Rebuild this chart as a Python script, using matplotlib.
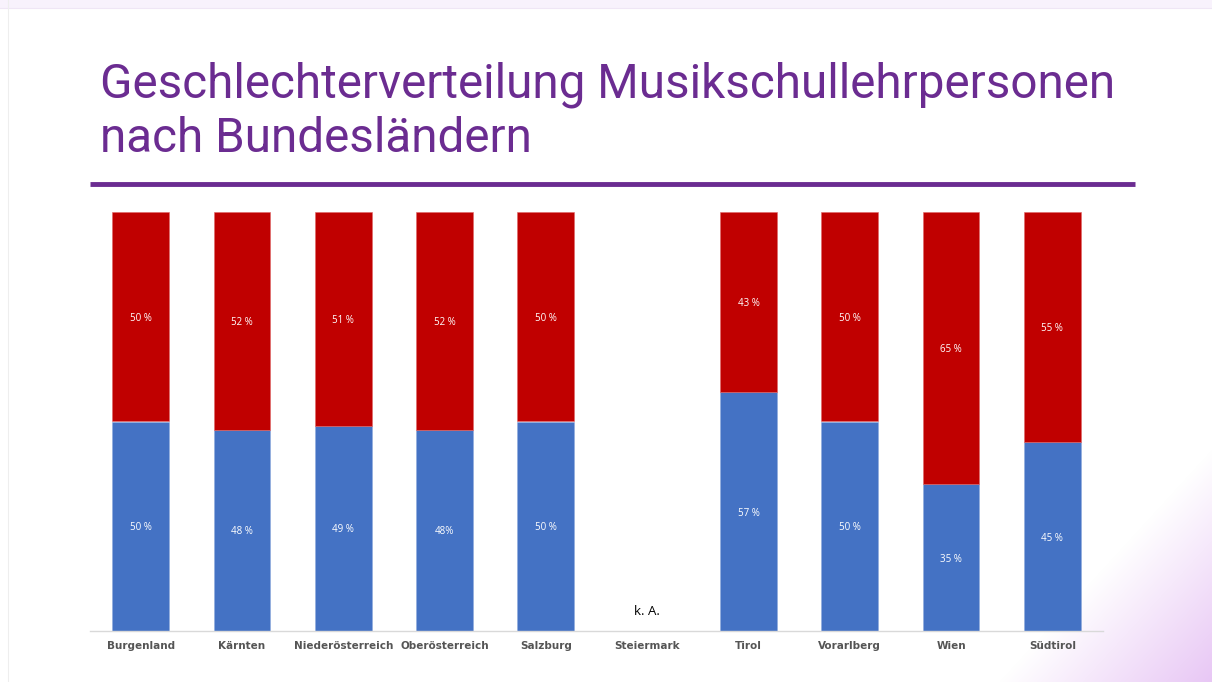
import numpy as np
import matplotlib.pyplot as plt
from matplotlib.patches import Rectangle

# ---------------------------------------------------------------
# DATA
# ---------------------------------------------------------------
states = ['Burgenland', 'Kärnten', 'Niederösterreich', 'Oberösterreich', 'Salzburg',
          'Steiermark', 'Tirol', 'Vorarlberg', 'Wien', 'Südtirol']
share_men = [50, 48, 49, 48, 50, np.nan, 57, 50, 35, 45]
share_women = [50, 52, 51, 52, 50, np.nan, 43, 50, 65, 55]
labels_men = ['50 %', '48 %', '49 %', '48%', '50 %', '', '57 %', '50 %', '35 %', '45 %']
labels_women = ['50 %', '52 %', '51 %', '52 %', '50 %', '', '43 %', '50 %', '65 %', '55 %']
no_data_label = 'k. A.'
title_lines = ['Geschlechterverteilung Musikschullehrpersonen', 'nach Bundesländern']

blue = '#4472C4'
red = '#C00000'
purple = '#6B2C91'

W, H = 1212, 682
fig = plt.figure(figsize=(W / 100, H / 100), dpi=100)

# --- background: white slide with a faint lavender glow bottom right ---
bg = fig.add_axes([0, 0, 1, 1], zorder=-10)
xx, yy = np.meshgrid(np.linspace(0, 1, W), np.linspace(0, 1, H))
t = np.clip((xx + 0.515 * yy - 1.34) / 0.175, 0, 1)
corner = np.array([0.91, 0.78, 0.96])
img = 1 - t[..., None] * (1 - corner)
bg.imshow(img, extent=[0, 1, 0, 1], aspect='auto')
bg.add_patch(Rectangle((0, 1 - 8 / H), 1, 8 / H, color='#F8F2FC', lw=0))
bg.axhline(1 - 8 / H, color='#EFE6F5', lw=0.8)
bg.axvline(8 / W, color='#EEEEEE', lw=0.8)
bg.set_xlim(0, 1)
bg.set_ylim(0, 1)
bg.axis('off')

# --- title (two lines, placed by baseline) and rule ---
for line, base in zip(title_lines, [97, 152]):
    fig.text(100 / W, 1 - base / H, line, color=purple, fontsize=34.3,
             family=['Roboto', 'DejaVu Sans'], va='baseline', ha='left')
fig.add_artist(plt.Line2D([90 / W, 1135 / W], [1 - 184 / H, 1 - 184 / H],
                          color=purple, lw=3.5, solid_capstyle='butt'))

# --- chart ---
ax = fig.add_axes([90 / W, 1 - 631 / H, 1013 / W, 419 / H])
x = np.arange(len(states))
men = np.nan_to_num(share_men)
women = np.nan_to_num(share_women)
ax.bar(x, men, width=0.56, color=blue, edgecolor='#8FAADC', lw=0.4)
ax.bar(x, women, bottom=men, width=0.56, color=red, edgecolor='#E06666', lw=0.4)

for i in range(len(states)):
    if np.isnan(share_men[i]):
        ax.text(x[i], 3, no_data_label, ha='center', va='bottom', fontsize=9.5,
                color='black', family='Open Sans')
        continue
    ax.text(x[i], men[i] / 2, labels_men[i], ha='center', va='center_baseline',
            fontsize=7, color='white', family='Open Sans')
    ax.text(x[i], men[i] + women[i] / 2, labels_women[i], ha='center',
            va='center_baseline', fontsize=7, color='white', family='Open Sans')

ax.set_xlim(-0.5, len(states) - 0.5)
ax.set_ylim(0, 100)
ax.set_xticks(x)
ax.set_xticklabels(states, fontsize=7.5, fontweight='bold', color='#555555',
                   family='DejaVu Sans')
ax.tick_params(axis='x', length=0, pad=7)
ax.set_yticks([])
for side in ['top', 'right', 'left']:
    ax.spines[side].set_visible(False)
ax.spines['bottom'].set_color('#D9D9D9')
ax.spines['bottom'].set_linewidth(1)
ax.patch.set_alpha(0)

fig.savefig('out.png', dpi=100)
